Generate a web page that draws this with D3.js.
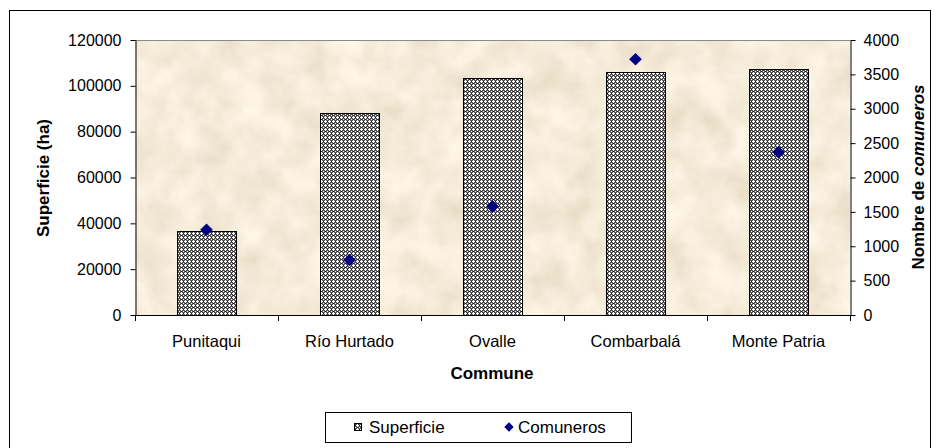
<!DOCTYPE html>
<html><head><meta charset="utf-8">
<script src="https://cdn.jsdelivr.net/npm/d3@7"></script>
<style>
html,body{margin:0;padding:0;background:#fff;}
svg{display:block;font-family:"Liberation Sans",Arial,sans-serif;}
</style></head>
<body>
<svg id="c" width="940" height="448"></svg>
<script>
const categories = ["Punitaqui", "Río Hurtado", "Ovalle", "Combarbalá", "Monte Patria"];
const superficie = [36700, 88000, 103300, 106000, 107300];
const comuneros = [1240, 800, 1580, 3720, 2370];
const leftTicks = [0, 20000, 40000, 60000, 80000, 100000, 120000];
const rightTicks = [0, 500, 1000, 1500, 2000, 2500, 3000, 3500, 4000];

const svg = d3.select("#c");
const L = 135, R = 850, T = 40, B = 315;

const defs = svg.append("defs");
const f = defs.append("filter").attr("id","parch").attr("x",0).attr("y",0).attr("width","100%").attr("height","100%");
f.append("feTurbulence").attr("type","fractalNoise").attr("baseFrequency","0.03").attr("numOctaves",4).attr("seed",7).attr("result","n");
f.append("feColorMatrix").attr("in","n").attr("type","matrix")
 .attr("values","0.28 0 0 0 0.775  0.3 0 0 0 0.685  0.36 0 0 0 0.52  0 0 0 0 1");

const pat = defs.append("pattern").attr("id","chk").attr("width",4).attr("height",4).attr("patternUnits","userSpaceOnUse");
pat.append("rect").attr("width",4).attr("height",4).attr("fill","#555");
[[1,0],[0,1],[1,1],[2,1],[1,2],[3,3]].forEach(p=>pat.append("rect").attr("x",p[0]).attr("y",p[1]).attr("width",1).attr("height",1).attr("fill","#fff"));
pat.append("rect").attr("x",3).attr("y",1).attr("width",1).attr("height",1).attr("fill","#1e1e1e");
pat.append("rect").attr("x",1).attr("y",3).attr("width",1).attr("height",1).attr("fill","#1e1e1e");

// outer border
svg.append("rect").attr("x",9.5).attr("y",10.5).attr("width",921).attr("height",445)
  .attr("fill","#fff").attr("stroke","#000").attr("stroke-width",1);

// plot background
svg.append("rect").attr("x",L).attr("y",T).attr("width",R-L).attr("height",B-T).attr("filter","url(#parch)");
svg.append("line").attr("x1",L).attr("x2",R).attr("y1",T+0.5).attr("y2",T+0.5).attr("stroke","#8a8a8a");

const x = d3.scaleBand().domain(categories).range([L,R]).paddingInner(0.587).paddingOuter(0.2935);
const yL = d3.scaleLinear().domain([0,120000]).range([B,T]);
const yR = d3.scaleLinear().domain([0,4000]).range([B,T]);

// bars
svg.append("g").selectAll("rect").data(categories).join("rect")
  .attr("x", d=>Math.round(x(d))+0.5)
  .attr("y", (d,i)=>Math.round(yL(superficie[i]))+0.5)
  .attr("width", Math.round(x.bandwidth()))
  .attr("height", (d,i)=>B-Math.round(yL(superficie[i])))
  .attr("fill","url(#chk)").attr("stroke","#000").attr("stroke-width",1);

// left axis
const gL = svg.append("g").attr("transform",`translate(${L+0.5},0)`)
  .call(d3.axisLeft(yL).tickValues(leftTicks).tickFormat(d3.format("d")).tickSize(5).tickPadding(9).tickSizeOuter(0));
// right axis
const gR = svg.append("g").attr("transform",`translate(${R+0.5},0)`)
  .call(d3.axisRight(yR).tickValues(rightTicks).tickFormat(d3.format("d")).tickSize(5).tickPadding(8).tickSizeOuter(0));
[gL,gR].forEach(g=>{
  g.selectAll("text").attr("font-size","16px").attr("fill","#000").attr("font-family","Liberation Sans, Arial, sans-serif");
  g.selectAll("line,path").attr("stroke","#000");
});

// x axis
const gX = svg.append("g");
gX.append("line").attr("x1",L).attr("x2",R+1).attr("y1",B+0.5).attr("y2",B+0.5).attr("stroke","#000");
const bounds = d3.range(categories.length+1).map(i=>L + i*x.step());
gX.selectAll("line.t").data(bounds).join("line").attr("class","t")
  .attr("x1",d=>Math.round(d)+0.5).attr("x2",d=>Math.round(d)+0.5).attr("y1",B).attr("y2",B+6).attr("stroke","#000");
gX.selectAll("text").data(categories).join("text")
  .attr("x",d=>x(d)+x.bandwidth()/2).attr("y",347)
  .attr("text-anchor","middle").attr("font-size","16.5px").text(d=>d);

// diamonds
svg.append("g").selectAll("path").data(categories).join("path")
  .attr("transform",(d,i)=>`translate(${x(d)+x.bandwidth()/2},${yR(comuneros[i])}) rotate(45)`)
  .attr("d", d3.symbol().type(d3.symbolSquare).size(80)())
  .attr("fill","#000080");

// titles
svg.append("text").attr("x",492).attr("y",379).attr("text-anchor","middle")
  .attr("font-size","17px").attr("font-weight","bold").text("Commune");
svg.append("text").attr("transform","translate(49,178) rotate(-90)").attr("text-anchor","middle")
  .attr("font-size","17px").attr("font-weight","bold").text("Superficie (ha)");
const rt = svg.append("text").attr("transform","translate(924,177) rotate(-90)").attr("text-anchor","middle")
  .attr("font-size","17px").attr("font-weight","bold");
rt.append("tspan").text("Nombre de  ");
rt.append("tspan").attr("font-style","italic").text("comuneros");

// legend
const lg = svg.append("g");
lg.append("rect").attr("x",325.5).attr("y",412.5).attr("width",306).attr("height",30).attr("fill","#fff").attr("stroke","#000");
lg.append("rect").attr("x",354.5).attr("y",423.5).attr("width",7).attr("height",7).attr("fill","url(#chk)").attr("stroke","#000");
lg.append("text").attr("x",369).attr("y",433).attr("font-size","17px").text("Superficie");
lg.append("path").attr("transform","translate(509,427) rotate(45)")
  .attr("d", d3.symbol().type(d3.symbolSquare).size(44)()).attr("fill","#000080");
lg.append("text").attr("x",518).attr("y",433).attr("font-size","17px").text("Comuneros");
</script>
</body></html>
